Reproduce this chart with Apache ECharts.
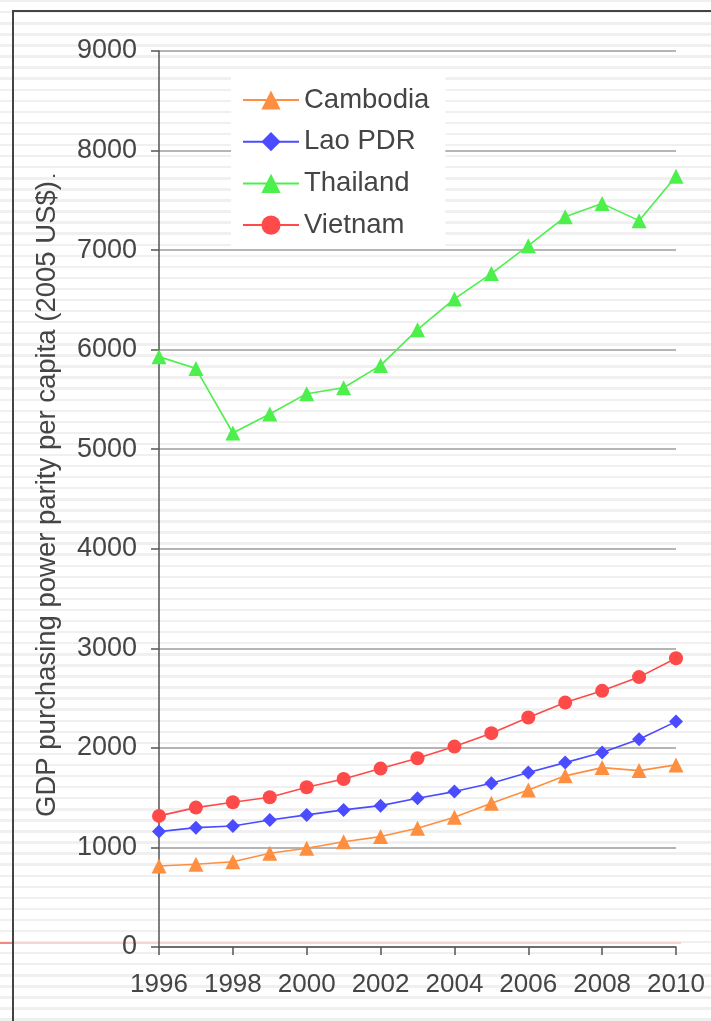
<!DOCTYPE html>
<html>
<head>
<meta charset="utf-8">
<script src="https://cdn.jsdelivr.net/npm/echarts@6/dist/echarts.min.js"></script>
<style>
html, body { margin:0; padding:0; }
body {
  width:711px; height:1021px; overflow:hidden;
  background: repeating-linear-gradient(to bottom, #f0f0f0 0px, #f0f0f0 2.4px, #ffffff 2.4px, #ffffff 11.07px);
}
#chart { width:711px; height:1021px; }
</style>
</head>
<body>
<div id="chart"></div>
<script>
const years = [1996, 1997, 1998, 1999, 2000, 2001, 2002, 2003, 2004, 2005, 2006, 2007, 2008, 2009, 2010];
const cambodia = [814, 831, 857, 941, 992, 1058, 1109, 1193, 1303, 1444, 1578, 1719, 1802, 1772, 1829];
const lao = [1159, 1199, 1216, 1276, 1327, 1377, 1420, 1494, 1561, 1645, 1752, 1852, 1953, 2087, 2264];
const thailand = [5930, 5810, 5163, 5354, 5558, 5618, 5842, 6201, 6510, 6764, 7045, 7334, 7467, 7296, 7742];
const vietnam = [1317, 1400, 1454, 1504, 1605, 1688, 1792, 1896, 2013, 2148, 2305, 2455, 2573, 2711, 2901];
const seriesNames = ['Cambodia', 'Lao PDR', 'Thailand', 'Vietnam'];
const yTitle = 'GDP purchasing power parity per capita (2005 US$)';

const FONT = '"Liberation Sans", Arial, sans-serif';
const TXT = '#454545';

function pairs(vals) { return years.map((y, i) => [y, vals[i]]); }

function mkSeries(name, vals, color, symbol, size) {
  return {
    name: name, type: 'line', data: pairs(vals),
    symbol: symbol, symbolSize: size,
    lineStyle: { color: color, width: 1.6 },
    itemStyle: { color: color, opacity: 1 },
    emphasis: { disabled: true },
    animation: false
  };
}

const chart = echarts.init(document.getElementById('chart'), null, { renderer: 'canvas' });
chart.setOption({
  backgroundColor: 'transparent',
  animation: false,
  textStyle: { fontFamily: FONT },
  grid: { left: 159, right: 35, top: 51, bottom: 74, containLabel: false },
  legend: {
    data: seriesNames,
    orient: 'vertical',
    left: 231, top: 76,
    padding: [10, 16, 10, 11],
    backgroundColor: '#ffffff',
    itemWidth: 56, itemHeight: 24, itemGap: 13.7,
    textStyle: { fontSize: 27.5, color: TXT, fontFamily: FONT, lineHeight: 27 },
    selectedMode: false
  },
  xAxis: {
    type: 'value', min: 1996, max: 2010, interval: 2,
    axisLine: { show: true, lineStyle: { color: '#555', width: 1.5 } },
    axisTick: { show: true, length: 8, lineStyle: { color: '#555', width: 1.5 } },
    axisLabel: { fontSize: 26, color: TXT, fontFamily: FONT, margin: 25, formatter: v => String(v) },
    splitLine: { show: false }
  },
  yAxis: {
    type: 'value', min: 0, max: 9000, interval: 1000,
    name: yTitle, nameLocation: 'middle', nameGap: 98, nameRotate: 90,
    nameTextStyle: { fontSize: 27.5, color: TXT, fontFamily: FONT },
    axisLine: { show: true, lineStyle: { color: '#555', width: 1.5 } },
    axisTick: { show: true, length: 8, lineStyle: { color: '#555', width: 1.5 } },
    axisLabel: { fontSize: 27, color: TXT, fontFamily: FONT, margin: 22, formatter: v => String(v) },
    splitLine: { show: true, lineStyle: { color: '#9c9c9c', width: 1.5 } }
  },
  graphic: [
    { type: 'line', silent: true, z: -1, shape: { x1: 0, y1: 943, x2: 681, y2: 943 }, style: { stroke: '#f6d4cf', lineWidth: 2 } },
    { type: 'line', silent: true, z: -1, shape: { x1: 0, y1: 943, x2: 13, y2: 943 }, style: { stroke: '#f08a80', lineWidth: 2 } },
    { type: 'polyline', silent: true, shape: { points: [[13, 1021], [13, 11], [711, 11]] }, style: { stroke: '#444', lineWidth: 2, fill: null } },
    { type: 'text', silent: true, x: 54, y: 171, style: { text: '.', fontSize: 20, fill: TXT, fontFamily: FONT, align: 'center', verticalAlign: 'middle' } }
  ],
  series: [
    mkSeries(seriesNames[0], cambodia, '#ff8f40', 'triangle', 15),
    mkSeries(seriesNames[1], lao, '#4b4bff', 'diamond', 14),
    mkSeries(seriesNames[2], thailand, '#4cef4c', 'triangle', 15),
    mkSeries(seriesNames[3], vietnam, '#ff4a4a', 'circle', 14)
  ]
});
</script>
</body>
</html>
